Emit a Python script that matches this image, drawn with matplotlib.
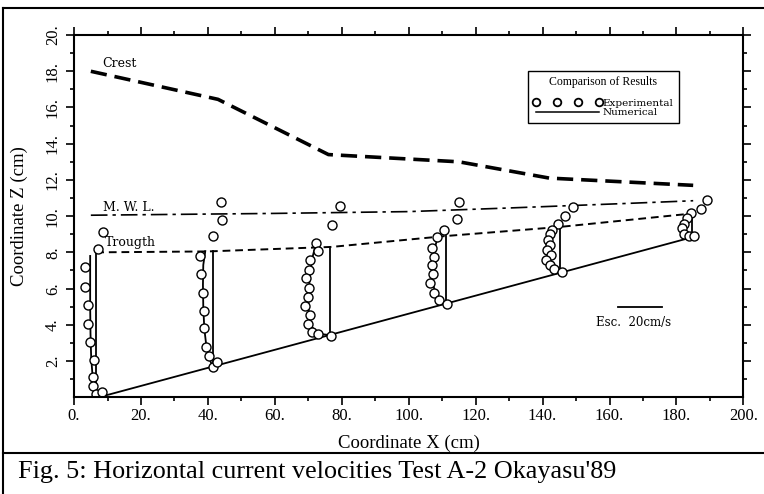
import matplotlib
matplotlib.use("Agg")
import matplotlib.pyplot as plt
from matplotlib.lines import Line2D

plt.rcParams['font.family'] = ['Liberation Serif', 'DejaVu Serif']

# free surface envelopes (x in cm, z in cm)
crest_x = [5.0, 43.0, 76.0, 115.0, 142.0, 185.0]
crest_z = [18.0, 16.45, 13.4, 13.0, 12.1, 11.7]
mwl_x = [5.0, 60.0, 100.0, 130.0, 165.0, 185.0]
mwl_z = [10.05, 10.15, 10.25, 10.45, 10.7, 10.85]
trough_x = [6.6, 40.0, 77.0, 111.0, 145.0, 185.0]
trough_z = [8.0, 8.05, 8.3, 8.9, 9.4, 10.15]
bed_x = [7.5, 185.0]
bed_z = [0.0, 8.85]

# zero-velocity reference lines of each profile
st_x = [6.6, 41.4, 76.5, 111.2, 145.3, 184.6]
st_top = [8.0, 8.07, 8.25, 8.9, 9.41, 10.15]
st_bot = [0.0, 1.67, 3.43, 5.16, 6.87, 8.83]

# numerical profiles
num1_x = [4.8, 4.8, 4.8, 4.9, 5.1, 5.5, 6.0, 6.6]
num1_z = [7.8, 6.5, 5.0, 3.5, 2.2, 1.2, 0.5, 0.0]
num2_x = [39.2, 38.6, 38.5, 38.6, 38.9, 39.6, 40.5, 41.4]
num2_z = [8.07, 7.3, 6.2, 5.0, 3.8, 2.7, 2.1, 1.67]
num3_x = [72.3, 71.2, 70.5, 70.1, 70.0, 70.3, 71.2, 73.0, 76.5]
num3_z = [8.5, 7.7, 6.8, 5.8, 5.0, 4.4, 3.85, 3.5, 3.43]
num4_x = [108.8, 107.7, 107.1, 107.0, 107.3, 108.1, 109.4, 111.2]
num4_z = [8.9, 8.2, 7.5, 6.8, 6.2, 5.7, 5.35, 5.18]
num5_x = [144.6, 142.9, 142.0, 141.8, 141.9, 142.4, 143.5, 145.3]
num5_z = [9.45, 9.1, 8.6, 8.1, 7.6, 7.25, 7.0, 6.9]
num6_x = [184.4, 183.0, 182.2, 182.0, 182.5, 183.6, 184.6]
num6_z = [10.15, 9.8, 9.5, 9.25, 9.0, 8.88, 8.85]

# experimental points
exp1_x = [8.7, 7.2, 3.3, 3.3, 4.2, 4.2, 4.8, 5.8, 5.5, 5.7, 6.5, 8.3]
exp1_z = [9.1, 8.2, 7.18, 6.08, 5.08, 4.03, 3.04, 2.04, 1.12, 0.6, 0.15, 0.3]
exp2_x = [43.8, 44.1, 41.6, 37.7, 37.9, 38.5, 38.7, 38.7, 39.4, 40.4, 41.6, 42.8]
exp2_z = [10.8, 9.8, 8.9, 7.8, 6.8, 5.76, 4.77, 3.8, 2.78, 2.3, 1.67, 1.95]
exp3_x = [79.5, 77.0, 72.3, 72.9, 70.6, 70.3, 69.4, 70.3, 69.9, 69.1, 70.6, 70.0, 71.0, 73.0, 76.8]
exp3_z = [10.55, 9.5, 8.52, 8.07, 7.57, 7.05, 6.56, 6.04, 5.54, 5.03, 4.53, 4.03, 3.61, 3.48, 3.37]
exp4_x = [114.9, 114.4, 110.4, 108.4, 106.9, 107.4, 106.9, 107.2, 106.4, 107.4, 108.9, 111.4]
exp4_z = [10.79, 9.82, 9.26, 8.82, 8.25, 7.75, 7.29, 6.8, 6.28, 5.73, 5.36, 5.17]
exp5_x = [149.1, 146.6, 144.6, 142.8, 142.1, 141.5, 142.3, 141.3, 142.5, 141.1, 142.1, 143.3, 145.8]
exp5_z = [10.48, 10.0, 9.56, 9.23, 9.04, 8.67, 8.4, 8.12, 7.85, 7.57, 7.29, 7.1, 6.92]
exp6_x = [189.1, 187.2, 184.3, 183.3, 182.3, 181.8, 182.3, 183.8, 185.3]
exp6_z = [10.88, 10.37, 10.15, 9.87, 9.59, 9.32, 9.04, 8.9, 8.9]

scale_x = [162.5, 175.8]
scale_z = [5.0, 5.0]

fig = plt.figure(figsize=(7.64, 4.94), dpi=100)
ax = fig.add_axes([0.097, 0.196, 0.876, 0.733])

ax.plot(crest_x, crest_z, color='black', lw=2.6, dashes=(4.5, 2.2))
ax.plot(mwl_x, mwl_z, color='black', lw=1.2, dashes=(10, 3, 2, 3))
ax.plot(trough_x, trough_z, color='black', lw=1.4, dashes=(4, 2.5))
ax.plot(bed_x, bed_z, color='black', lw=1.3)

for i in range(len(st_x)):
    ax.plot([st_x[i], st_x[i]], [st_bot[i], st_top[i]], color='black', lw=1.3)

nums = [(num1_x, num1_z), (num2_x, num2_z), (num3_x, num3_z),
        (num4_x, num4_z), (num5_x, num5_z), (num6_x, num6_z)]
for nx, nz in nums:
    ax.plot(nx, nz, color='black', lw=1.3)

exps = [(exp1_x, exp1_z), (exp2_x, exp2_z), (exp3_x, exp3_z),
        (exp4_x, exp4_z), (exp5_x, exp5_z), (exp6_x, exp6_z)]
for ex, ez in exps:
    ax.plot(ex, ez, ls='none', marker='o', ms=6.5, mfc='white', mec='black', mew=1.0)

ann = dict(fontsize=9, va='center', family='DejaVu Serif')
ax.text(8.5, 18.45, 'Crest', **ann)
ax.text(8.5, 10.5, 'M. W. L.', **ann)
ax.text(9.3, 8.55, 'Trougth', **ann)

ax.plot(scale_x, scale_z, color='black', lw=1.3)
ax.text(156.0, 4.15, 'Esc.  20cm/s', fontsize=8.5, va='center', family='DejaVu Serif')

h_exp = Line2D([], [], ls='none', marker='o', ms=5.5, mfc='white', mec='black', mew=1.3)
h_num = Line2D([], [], color='black', lw=1.1)
leg = ax.legend([h_exp, h_num], ['Experimental', 'Numerical'], title='Comparison of Results',
                loc='upper left', bbox_to_anchor=(0.678, 0.9), numpoints=4, handlelength=6.6,
                prop={'family': 'DejaVu Serif', 'size': 7.5}, title_fontsize=8.5,
                fancybox=False, edgecolor='black', framealpha=1, borderpad=0.5,
                labelspacing=0.05, handletextpad=0.1, borderaxespad=0)
leg._legend_box.sep = 7
leg.get_frame().set_linewidth(1.0)

ax.set_xlim(0, 200)
ax.set_ylim(0, 20)
ax.set_xticks(range(0, 201, 20))
ax.set_xticklabels([f'{v}.' for v in range(0, 201, 20)], fontsize=12)
ax.set_xticks(range(10, 200, 20), minor=True)
ax.set_yticks(range(2, 21, 2))
ax.set_yticklabels([f'{v}.' for v in range(2, 21, 2)], fontsize=12, rotation=90, va='center')
ax.set_yticks(range(1, 20, 2), minor=True)
ax.tick_params(which='both', direction='out', top=True, right=True, width=1.2)
ax.tick_params(which='major', length=6)
ax.tick_params(which='minor', length=3)
ax.tick_params(axis='x', pad=1.5)
for s in ax.spines.values():
    s.set_linewidth(1.5)

ax.set_xlabel('Coordinate X (cm)', fontsize=13.5, labelpad=8)
ax.set_ylabel('Coordinate Z (cm)', fontsize=13.5, labelpad=12)

# outer frame of the figure panel
fig.add_artist(Line2D([0.004, 1.0], [0.984, 0.984], color='black', lw=1.5, transform=fig.transFigure))
fig.add_artist(Line2D([0.004, 0.004], [0.0, 0.984], color='black', lw=1.5, transform=fig.transFigure))
fig.add_artist(Line2D([0.004, 1.0], [0.083, 0.083], color='black', lw=1.5, transform=fig.transFigure))
fig.text(0.024, 0.045, "Fig. 5: Horizontal current velocities Test A-2 Okayasu'89",
         fontsize=18.8, ha='left', va='center')

fig.savefig('out.png', dpi=100)
